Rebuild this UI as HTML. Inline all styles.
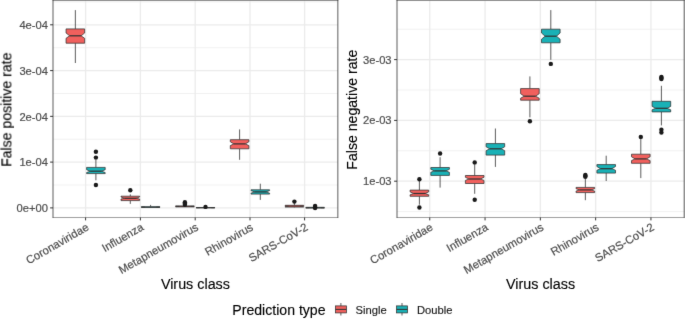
<!DOCTYPE html>
<html><head><meta charset="utf-8"><style>
html,body{margin:0;padding:0;background:#fff;}
svg{display:block;will-change:transform;font-family:"Liberation Sans",sans-serif;}
.tk{font-size:11.2px;fill:#4D4D4D;stroke:#4D4D4D;stroke-width:0.2px;}
.xl{font-size:11.3px;}
.ti{font-size:14.1px;fill:#000;stroke:#000;stroke-width:0.12px;}
.lg{font-size:11.2px;fill:#1a1a1a;stroke:#1a1a1a;stroke-width:0.15px;}
</style></head><body>
<svg width="685" height="319" viewBox="0 0 685 319" font-family="Liberation Sans, sans-serif">
<defs><filter id="bl" x="0" y="0" width="685" height="319" filterUnits="userSpaceOnUse" color-interpolation-filters="sRGB"><feConvolveMatrix order="3" kernelMatrix="0.00640 0.06720 0.00640 0.06720 0.70560 0.06720 0.00640 0.06720 0.00640" divisor="1" edgeMode="duplicate"/></filter></defs>
<g filter="url(#bl)">
<rect width="685" height="319" fill="#fff"/>
<line x1="53" x2="337.85" y1="1.9" y2="1.9" stroke="#EBEBEB" stroke-width="0.7"/>
<line x1="53" x2="337.85" y1="47.7" y2="47.7" stroke="#EBEBEB" stroke-width="0.7"/>
<line x1="53" x2="337.85" y1="93.5" y2="93.5" stroke="#EBEBEB" stroke-width="0.7"/>
<line x1="53" x2="337.85" y1="139.2" y2="139.2" stroke="#EBEBEB" stroke-width="0.7"/>
<line x1="53" x2="337.85" y1="185" y2="185" stroke="#EBEBEB" stroke-width="0.7"/>
<line x1="53" x2="337.85" y1="24.8" y2="24.8" stroke="#EBEBEB" stroke-width="1.3"/>
<line x1="53" x2="337.85" y1="70.6" y2="70.6" stroke="#EBEBEB" stroke-width="1.3"/>
<line x1="53" x2="337.85" y1="116.35" y2="116.35" stroke="#EBEBEB" stroke-width="1.3"/>
<line x1="53" x2="337.85" y1="162.1" y2="162.1" stroke="#EBEBEB" stroke-width="1.3"/>
<line x1="53" x2="337.85" y1="207.9" y2="207.9" stroke="#EBEBEB" stroke-width="1.3"/>
<line x1="85.6" x2="85.6" y1="0.7" y2="217.5" stroke="#EBEBEB" stroke-width="1.3"/>
<line x1="140.4" x2="140.4" y1="0.7" y2="217.5" stroke="#EBEBEB" stroke-width="1.3"/>
<line x1="195.2" x2="195.2" y1="0.7" y2="217.5" stroke="#EBEBEB" stroke-width="1.3"/>
<line x1="250" x2="250" y1="0.7" y2="217.5" stroke="#EBEBEB" stroke-width="1.3"/>
<line x1="304.6" x2="304.6" y1="0.7" y2="217.5" stroke="#EBEBEB" stroke-width="1.3"/>
<line x1="397" x2="684.2" y1="29.2" y2="29.2" stroke="#EBEBEB" stroke-width="0.7"/>
<line x1="397" x2="684.2" y1="90" y2="90" stroke="#EBEBEB" stroke-width="0.7"/>
<line x1="397" x2="684.2" y1="150.8" y2="150.8" stroke="#EBEBEB" stroke-width="0.7"/>
<line x1="397" x2="684.2" y1="211.6" y2="211.6" stroke="#EBEBEB" stroke-width="0.7"/>
<line x1="397" x2="684.2" y1="59.6" y2="59.6" stroke="#EBEBEB" stroke-width="1.3"/>
<line x1="397" x2="684.2" y1="120.4" y2="120.4" stroke="#EBEBEB" stroke-width="1.3"/>
<line x1="397" x2="684.2" y1="181.2" y2="181.2" stroke="#EBEBEB" stroke-width="1.3"/>
<line x1="429.75" x2="429.75" y1="0.7" y2="217.5" stroke="#EBEBEB" stroke-width="1.3"/>
<line x1="485.05" x2="485.05" y1="0.7" y2="217.5" stroke="#EBEBEB" stroke-width="1.3"/>
<line x1="540.35" x2="540.35" y1="0.7" y2="217.5" stroke="#EBEBEB" stroke-width="1.3"/>
<line x1="595.65" x2="595.65" y1="0.7" y2="217.5" stroke="#EBEBEB" stroke-width="1.3"/>
<line x1="650.95" x2="650.95" y1="0.7" y2="217.5" stroke="#EBEBEB" stroke-width="1.3"/>
<line x1="75.35" x2="75.35" y1="10.1" y2="28.9" stroke="#333333" stroke-width="0.8"/>
<line x1="75.35" x2="75.35" y1="43.2" y2="63" stroke="#333333" stroke-width="0.8"/>
<path d="M66.05,28.9 L66.05,33 L69.65,35.8 L66.05,38.3 L66.05,43.2 L84.65,43.2 L84.65,38.3 L81.05,35.8 L84.65,33 L84.65,28.9 Z" fill="#F1605D" stroke="#333333" stroke-width="0.75" stroke-linejoin="miter"/>
<line x1="69.65" x2="81.05" y1="35.8" y2="35.8" stroke="#333333" stroke-width="1.25"/>
<line x1="95.9" x2="95.9" y1="159.9" y2="167.4" stroke="#333333" stroke-width="0.8"/>
<line x1="95.9" x2="95.9" y1="173.6" y2="180.3" stroke="#333333" stroke-width="0.8"/>
<path d="M86.6,167.4 L86.6,169.7 L90.2,171.2 L86.6,172.6 L86.6,173.6 L105.2,173.6 L105.2,172.6 L101.6,171.2 L105.2,169.7 L105.2,167.4 Z" fill="#19B1B6" stroke="#333333" stroke-width="0.75" stroke-linejoin="miter"/>
<line x1="90.2" x2="101.6" y1="171.2" y2="171.2" stroke="#333333" stroke-width="1.25"/>
<circle cx="95.9" cy="151.8" r="2.2" fill="#1a1a1a"/>
<circle cx="95.9" cy="157.6" r="2.2" fill="#1a1a1a"/>
<circle cx="95.9" cy="185" r="2.2" fill="#1a1a1a"/>
<line x1="130.3" x2="130.3" y1="194.4" y2="196.2" stroke="#333333" stroke-width="0.8"/>
<line x1="130.3" x2="130.3" y1="200.6" y2="203.9" stroke="#333333" stroke-width="0.8"/>
<path d="M121,196.2 L121,197 L124.6,198.3 L121,199 L121,200.6 L139.6,200.6 L139.6,199 L136,198.3 L139.6,197 L139.6,196.2 Z" fill="#F1605D" stroke="#333333" stroke-width="0.75" stroke-linejoin="miter"/>
<line x1="124.6" x2="136" y1="198.3" y2="198.3" stroke="#333333" stroke-width="1.25"/>
<circle cx="130.3" cy="190.2" r="2.2" fill="#1a1a1a"/>
<line x1="150.6" x2="150.6" y1="204.9" y2="206.7" stroke="#333333" stroke-width="0.8"/>
<line x1="150.6" x2="150.6" y1="207.5" y2="207.7" stroke="#333333" stroke-width="0.8"/>
<path d="M141.3,206.7 L141.3,206.9 L144.9,207.1 L141.3,207.3 L141.3,207.5 L159.9,207.5 L159.9,207.3 L156.3,207.1 L159.9,206.9 L159.9,206.7 Z" fill="#19B1B6" stroke="#333333" stroke-width="0.75" stroke-linejoin="miter"/>
<line x1="144.9" x2="156.3" y1="207.1" y2="207.1" stroke="#333333" stroke-width="0.7"/>
<line x1="184.9" x2="184.9" y1="205.7" y2="205.9" stroke="#333333" stroke-width="0.8"/>
<line x1="184.9" x2="184.9" y1="206.9" y2="207" stroke="#333333" stroke-width="0.8"/>
<path d="M175.6,205.9 L175.6,206.2 L179.2,206.4 L175.6,206.6 L175.6,206.9 L194.2,206.9 L194.2,206.6 L190.6,206.4 L194.2,206.2 L194.2,205.9 Z" fill="#F1605D" stroke="#333333" stroke-width="0.75" stroke-linejoin="miter"/>
<line x1="179.2" x2="190.6" y1="206.4" y2="206.4" stroke="#333333" stroke-width="0.7"/>
<circle cx="184.9" cy="202.3" r="2.2" fill="#1a1a1a"/>
<circle cx="184.9" cy="203.5" r="2.2" fill="#1a1a1a"/>
<circle cx="184.9" cy="204.7" r="2.2" fill="#1a1a1a"/>
<line x1="205.5" x2="205.5" y1="207.4" y2="207.5" stroke="#333333" stroke-width="0.8"/>
<line x1="205.5" x2="205.5" y1="207.9" y2="208" stroke="#333333" stroke-width="0.8"/>
<path d="M196.2,207.5 L196.2,207.6 L199.8,207.7 L196.2,207.8 L196.2,207.9 L214.8,207.9 L214.8,207.8 L211.2,207.7 L214.8,207.6 L214.8,207.5 Z" fill="#19B1B6" stroke="#333333" stroke-width="0.75" stroke-linejoin="miter"/>
<line x1="199.8" x2="211.2" y1="207.7" y2="207.7" stroke="#333333" stroke-width="0.7"/>
<circle cx="205.5" cy="206.9" r="2.2" fill="#1a1a1a"/>
<line x1="239.6" x2="239.6" y1="129.4" y2="139.7" stroke="#333333" stroke-width="0.8"/>
<line x1="239.6" x2="239.6" y1="148.8" y2="159.8" stroke="#333333" stroke-width="0.8"/>
<path d="M230.3,139.7 L230.3,141.8 L233.9,143.9 L230.3,145.6 L230.3,148.8 L248.9,148.8 L248.9,145.6 L245.3,143.9 L248.9,141.8 L248.9,139.7 Z" fill="#F1605D" stroke="#333333" stroke-width="0.75" stroke-linejoin="miter"/>
<line x1="233.9" x2="245.3" y1="143.9" y2="143.9" stroke="#333333" stroke-width="1.25"/>
<line x1="260.3" x2="260.3" y1="183.7" y2="189.8" stroke="#333333" stroke-width="0.8"/>
<line x1="260.3" x2="260.3" y1="194.1" y2="199.9" stroke="#333333" stroke-width="0.8"/>
<path d="M251,189.8 L251,190.6 L254.6,191.9 L251,193.2 L251,194.1 L269.6,194.1 L269.6,193.2 L266,191.9 L269.6,190.6 L269.6,189.8 Z" fill="#19B1B6" stroke="#333333" stroke-width="0.75" stroke-linejoin="miter"/>
<line x1="254.6" x2="266" y1="191.9" y2="191.9" stroke="#333333" stroke-width="1.25"/>
<line x1="294.4" x2="294.4" y1="201.7" y2="205.3" stroke="#333333" stroke-width="0.8"/>
<line x1="294.4" x2="294.4" y1="207.1" y2="207.4" stroke="#333333" stroke-width="0.8"/>
<path d="M285.1,205.3 L285.1,205.8 L288.7,206.2 L285.1,206.6 L285.1,207.1 L303.7,207.1 L303.7,206.6 L300.1,206.2 L303.7,205.8 L303.7,205.3 Z" fill="#F1605D" stroke="#333333" stroke-width="0.75" stroke-linejoin="miter"/>
<line x1="288.7" x2="300.1" y1="206.2" y2="206.2" stroke="#333333" stroke-width="0.7"/>
<circle cx="294.4" cy="201.6" r="2.2" fill="#1a1a1a"/>
<line x1="315.1" x2="315.1" y1="206" y2="207.3" stroke="#333333" stroke-width="0.8"/>
<line x1="315.1" x2="315.1" y1="208.1" y2="208.3" stroke="#333333" stroke-width="0.8"/>
<path d="M305.8,207.3 L305.8,207.5 L309.4,207.7 L305.8,207.9 L305.8,208.1 L324.4,208.1 L324.4,207.9 L320.8,207.7 L324.4,207.5 L324.4,207.3 Z" fill="#19B1B6" stroke="#333333" stroke-width="0.75" stroke-linejoin="miter"/>
<line x1="309.4" x2="320.8" y1="207.7" y2="207.7" stroke="#333333" stroke-width="0.7"/>
<circle cx="315.1" cy="205.9" r="2.2" fill="#1a1a1a"/>
<circle cx="315.1" cy="207.2" r="2.2" fill="#1a1a1a"/>
<circle cx="315.1" cy="208" r="2.2" fill="#1a1a1a"/>
<line x1="419.4" x2="419.4" y1="179.4" y2="190.1" stroke="#333333" stroke-width="0.8"/>
<line x1="419.4" x2="419.4" y1="196.3" y2="204.7" stroke="#333333" stroke-width="0.8"/>
<path d="M410.1,190.1 L410.1,191.9 L413.7,193.5 L410.1,194.8 L410.1,196.3 L428.7,196.3 L428.7,194.8 L425.1,193.5 L428.7,191.9 L428.7,190.1 Z" fill="#F1605D" stroke="#333333" stroke-width="0.75" stroke-linejoin="miter"/>
<line x1="413.7" x2="425.1" y1="193.5" y2="193.5" stroke="#333333" stroke-width="1.25"/>
<circle cx="419.4" cy="179.3" r="2.2" fill="#1a1a1a"/>
<circle cx="419.4" cy="207.5" r="2.2" fill="#1a1a1a"/>
<line x1="440.1" x2="440.1" y1="157.2" y2="167.5" stroke="#333333" stroke-width="0.8"/>
<line x1="440.1" x2="440.1" y1="175.4" y2="187.6" stroke="#333333" stroke-width="0.8"/>
<path d="M430.8,167.5 L430.8,169.3 L434.4,170.9 L430.8,172.3 L430.8,175.4 L449.4,175.4 L449.4,172.3 L445.8,170.9 L449.4,169.3 L449.4,167.5 Z" fill="#19B1B6" stroke="#333333" stroke-width="0.75" stroke-linejoin="miter"/>
<line x1="434.4" x2="445.8" y1="170.9" y2="170.9" stroke="#333333" stroke-width="1.25"/>
<circle cx="440.1" cy="153.5" r="2.2" fill="#1a1a1a"/>
<line x1="474.7" x2="474.7" y1="162.5" y2="175.5" stroke="#333333" stroke-width="0.8"/>
<line x1="474.7" x2="474.7" y1="183.5" y2="193.8" stroke="#333333" stroke-width="0.8"/>
<path d="M465.4,175.5 L465.4,177.3 L469,179 L465.4,180.4 L465.4,183.5 L484,183.5 L484,180.4 L480.4,179 L484,177.3 L484,175.5 Z" fill="#F1605D" stroke="#333333" stroke-width="0.75" stroke-linejoin="miter"/>
<line x1="469" x2="480.4" y1="179" y2="179" stroke="#333333" stroke-width="1.25"/>
<circle cx="474.7" cy="162.4" r="2.2" fill="#1a1a1a"/>
<circle cx="474.7" cy="199.8" r="2.2" fill="#1a1a1a"/>
<line x1="495.4" x2="495.4" y1="128.5" y2="143.6" stroke="#333333" stroke-width="0.8"/>
<line x1="495.4" x2="495.4" y1="155.1" y2="166.9" stroke="#333333" stroke-width="0.8"/>
<path d="M486.1,143.6 L486.1,146.8 L489.7,148.8 L486.1,150.7 L486.1,155.1 L504.7,155.1 L504.7,150.7 L501.1,148.8 L504.7,146.8 L504.7,143.6 Z" fill="#19B1B6" stroke="#333333" stroke-width="0.75" stroke-linejoin="miter"/>
<line x1="489.7" x2="501.1" y1="148.8" y2="148.8" stroke="#333333" stroke-width="1.25"/>
<line x1="529.9" x2="529.9" y1="76.4" y2="88.6" stroke="#333333" stroke-width="0.8"/>
<line x1="529.9" x2="529.9" y1="100.2" y2="117.4" stroke="#333333" stroke-width="0.8"/>
<path d="M520.6,88.6 L520.6,93.7 L524.2,96.2 L520.6,98.2 L520.6,100.2 L539.2,100.2 L539.2,98.2 L535.6,96.2 L539.2,93.7 L539.2,88.6 Z" fill="#F1605D" stroke="#333333" stroke-width="0.75" stroke-linejoin="miter"/>
<line x1="524.2" x2="535.6" y1="96.2" y2="96.2" stroke="#333333" stroke-width="1.25"/>
<circle cx="529.9" cy="121.2" r="2.2" fill="#1a1a1a"/>
<line x1="550.8" x2="550.8" y1="10.1" y2="29.2" stroke="#333333" stroke-width="0.8"/>
<line x1="550.8" x2="550.8" y1="42.8" y2="59.8" stroke="#333333" stroke-width="0.8"/>
<path d="M541.5,29.2 L541.5,33 L545.1,36.2 L541.5,39.2 L541.5,42.8 L560.1,42.8 L560.1,39.2 L556.5,36.2 L560.1,33 L560.1,29.2 Z" fill="#19B1B6" stroke="#333333" stroke-width="0.75" stroke-linejoin="miter"/>
<line x1="545.1" x2="556.5" y1="36.2" y2="36.2" stroke="#333333" stroke-width="1.25"/>
<circle cx="550.8" cy="63.9" r="2.2" fill="#1a1a1a"/>
<line x1="585.35" x2="585.35" y1="178.5" y2="187.4" stroke="#333333" stroke-width="0.8"/>
<line x1="585.35" x2="585.35" y1="192.6" y2="200.2" stroke="#333333" stroke-width="0.8"/>
<path d="M576.05,187.4 L576.05,188.7 L579.65,189.9 L576.05,191.1 L576.05,192.6 L594.65,192.6 L594.65,191.1 L591.05,189.9 L594.65,188.7 L594.65,187.4 Z" fill="#F1605D" stroke="#333333" stroke-width="0.75" stroke-linejoin="miter"/>
<line x1="579.65" x2="591.05" y1="189.9" y2="189.9" stroke="#333333" stroke-width="1.25"/>
<circle cx="585.35" cy="174.9" r="2.2" fill="#1a1a1a"/>
<circle cx="585.35" cy="175.9" r="2.2" fill="#1a1a1a"/>
<circle cx="585.35" cy="176.8" r="2.2" fill="#1a1a1a"/>
<line x1="606.2" x2="606.2" y1="155.7" y2="164.6" stroke="#333333" stroke-width="0.8"/>
<line x1="606.2" x2="606.2" y1="173.1" y2="181" stroke="#333333" stroke-width="0.8"/>
<path d="M596.9,164.6 L596.9,166.5 L600.5,168.7 L596.9,170.3 L596.9,173.1 L615.5,173.1 L615.5,170.3 L611.9,168.7 L615.5,166.5 L615.5,164.6 Z" fill="#19B1B6" stroke="#333333" stroke-width="0.75" stroke-linejoin="miter"/>
<line x1="600.5" x2="611.9" y1="168.7" y2="168.7" stroke="#333333" stroke-width="1.25"/>
<line x1="640.8" x2="640.8" y1="137" y2="154.2" stroke="#333333" stroke-width="0.8"/>
<line x1="640.8" x2="640.8" y1="163.3" y2="178.1" stroke="#333333" stroke-width="0.8"/>
<path d="M631.5,154.2 L631.5,156.8 L635.1,158.9 L631.5,160.6 L631.5,163.3 L650.1,163.3 L650.1,160.6 L646.5,158.9 L650.1,156.8 L650.1,154.2 Z" fill="#F1605D" stroke="#333333" stroke-width="0.75" stroke-linejoin="miter"/>
<line x1="635.1" x2="646.5" y1="158.9" y2="158.9" stroke="#333333" stroke-width="1.25"/>
<circle cx="640.8" cy="136.9" r="2.2" fill="#1a1a1a"/>
<line x1="661.4" x2="661.4" y1="85.8" y2="101.3" stroke="#333333" stroke-width="0.8"/>
<line x1="661.4" x2="661.4" y1="111.9" y2="125.4" stroke="#333333" stroke-width="0.8"/>
<path d="M652.1,101.3 L652.1,106.4 L655.7,108.3 L652.1,109.8 L652.1,111.9 L670.7,111.9 L670.7,109.8 L667.1,108.3 L670.7,106.4 L670.7,101.3 Z" fill="#19B1B6" stroke="#333333" stroke-width="0.75" stroke-linejoin="miter"/>
<line x1="655.7" x2="667.1" y1="108.3" y2="108.3" stroke="#333333" stroke-width="1.25"/>
<circle cx="661.4" cy="77" r="2.2" fill="#1a1a1a"/>
<circle cx="661.4" cy="78" r="2.2" fill="#1a1a1a"/>
<circle cx="661.4" cy="79" r="2.2" fill="#1a1a1a"/>
<circle cx="661.4" cy="129.7" r="2.2" fill="#1a1a1a"/>
<circle cx="661.4" cy="132.6" r="2.2" fill="#1a1a1a"/>
<line x1="53" x2="53" y1="0" y2="217.8" stroke="#333333" stroke-width="0.8"/>
<line x1="337.85" x2="337.85" y1="0" y2="217.8" stroke="#333333" stroke-width="0.8"/>
<line x1="52.6" x2="338.25" y1="217.5" y2="217.5" stroke="#333333" stroke-width="0.47"/>
<line x1="52.6" x2="338.25" y1="0.33" y2="0.33" stroke="#333333" stroke-width="0.66"/>
<line x1="397" x2="397" y1="0" y2="217.8" stroke="#333333" stroke-width="0.8"/>
<line x1="684.2" x2="684.2" y1="0" y2="217.8" stroke="#333333" stroke-width="0.8"/>
<line x1="396.6" x2="684.6" y1="217.5" y2="217.5" stroke="#333333" stroke-width="0.47"/>
<line x1="396.6" x2="684.6" y1="0.33" y2="0.33" stroke="#333333" stroke-width="0.66"/>
<line x1="50.1" x2="53" y1="24.8" y2="24.8" stroke="#333333" stroke-width="1.0"/>
<text x="48" y="29.1" text-anchor="end" class="tk">4e-04</text>
<line x1="50.1" x2="53" y1="70.6" y2="70.6" stroke="#333333" stroke-width="1.0"/>
<text x="48" y="74.9" text-anchor="end" class="tk">3e-04</text>
<line x1="50.1" x2="53" y1="116.35" y2="116.35" stroke="#333333" stroke-width="1.0"/>
<text x="48" y="120.65" text-anchor="end" class="tk">2e-04</text>
<line x1="50.1" x2="53" y1="162.1" y2="162.1" stroke="#333333" stroke-width="1.0"/>
<text x="48" y="166.4" text-anchor="end" class="tk">1e-04</text>
<line x1="50.1" x2="53" y1="207.9" y2="207.9" stroke="#333333" stroke-width="1.0"/>
<text x="48" y="212.2" text-anchor="end" class="tk">0e+00</text>
<line x1="394.1" x2="397" y1="59.6" y2="59.6" stroke="#333333" stroke-width="1.0"/>
<text x="391.6" y="63.6" text-anchor="end" class="tk">3e-03</text>
<line x1="394.1" x2="397" y1="120.4" y2="120.4" stroke="#333333" stroke-width="1.0"/>
<text x="391.6" y="124.4" text-anchor="end" class="tk">2e-03</text>
<line x1="394.1" x2="397" y1="181.2" y2="181.2" stroke="#333333" stroke-width="1.0"/>
<text x="391.6" y="185.2" text-anchor="end" class="tk">1e-03</text>
<line x1="85.6" x2="85.6" y1="217.5" y2="220.4" stroke="#333333" stroke-width="1.0"/>
<text x="89.6" y="229.4" text-anchor="end" class="tk xl" transform="rotate(-30 89.6 229.4)">Coronaviridae</text>
<line x1="140.4" x2="140.4" y1="217.5" y2="220.4" stroke="#333333" stroke-width="1.0"/>
<text x="144.4" y="229.4" text-anchor="end" class="tk xl" transform="rotate(-30 144.4 229.4)">Influenza</text>
<line x1="195.2" x2="195.2" y1="217.5" y2="220.4" stroke="#333333" stroke-width="1.0"/>
<text x="199.2" y="229.4" text-anchor="end" class="tk xl" transform="rotate(-30 199.2 229.4)">Metapneumovirus</text>
<line x1="250" x2="250" y1="217.5" y2="220.4" stroke="#333333" stroke-width="1.0"/>
<text x="254" y="229.4" text-anchor="end" class="tk xl" transform="rotate(-30 254 229.4)">Rhinovirus</text>
<line x1="304.6" x2="304.6" y1="217.5" y2="220.4" stroke="#333333" stroke-width="1.0"/>
<text x="308.6" y="229.4" text-anchor="end" class="tk xl" transform="rotate(-30 308.6 229.4)">SARS-CoV-2</text>
<text x="195.43" y="289.1" text-anchor="middle" class="ti" style="font-size:14.35px">Virus class</text>
<line x1="429.75" x2="429.75" y1="217.5" y2="220.4" stroke="#333333" stroke-width="1.0"/>
<text x="433.75" y="229.4" text-anchor="end" class="tk xl" transform="rotate(-30 433.75 229.4)">Coronaviridae</text>
<line x1="485.05" x2="485.05" y1="217.5" y2="220.4" stroke="#333333" stroke-width="1.0"/>
<text x="489.05" y="229.4" text-anchor="end" class="tk xl" transform="rotate(-30 489.05 229.4)">Influenza</text>
<line x1="540.35" x2="540.35" y1="217.5" y2="220.4" stroke="#333333" stroke-width="1.0"/>
<text x="544.35" y="229.4" text-anchor="end" class="tk xl" transform="rotate(-30 544.35 229.4)">Metapneumovirus</text>
<line x1="595.65" x2="595.65" y1="217.5" y2="220.4" stroke="#333333" stroke-width="1.0"/>
<text x="599.65" y="229.4" text-anchor="end" class="tk xl" transform="rotate(-30 599.65 229.4)">Rhinovirus</text>
<line x1="650.95" x2="650.95" y1="217.5" y2="220.4" stroke="#333333" stroke-width="1.0"/>
<text x="654.95" y="229.4" text-anchor="end" class="tk xl" transform="rotate(-30 654.95 229.4)">SARS-CoV-2</text>
<text x="540.6" y="289.1" text-anchor="middle" class="ti" style="font-size:14.35px">Virus class</text>
<text x="11.1" y="109.7" text-anchor="middle" class="ti" transform="rotate(-90 11.1 109.7)">False positive rate</text>
<text x="357.5" y="109.7" text-anchor="middle" class="ti" transform="rotate(-90 357.5 109.7)">False negative rate</text>
<text x="232.3" y="314.7" class="ti">Prediction type</text>
<line x1="340.9" x2="340.9" y1="303" y2="315.5" stroke="#333333" stroke-width="0.8"/>
<rect x="335.5" y="305.9" width="10.9" height="7" fill="#F1605D" stroke="#333333" stroke-width="0.75"/>
<line x1="335.5" x2="346.4" y1="309.4" y2="309.4" stroke="#333333" stroke-width="1.05"/>
<text x="355.5" y="314.0" class="lg">Single</text>
<line x1="402" x2="402" y1="303" y2="315.5" stroke="#333333" stroke-width="0.8"/>
<rect x="396.6" y="305.9" width="10.9" height="7" fill="#19B1B6" stroke="#333333" stroke-width="0.75"/>
<line x1="396.6" x2="407.5" y1="309.4" y2="309.4" stroke="#333333" stroke-width="1.05"/>
<text x="417" y="314.0" class="lg">Double</text>
</g>
</svg></body></html>
